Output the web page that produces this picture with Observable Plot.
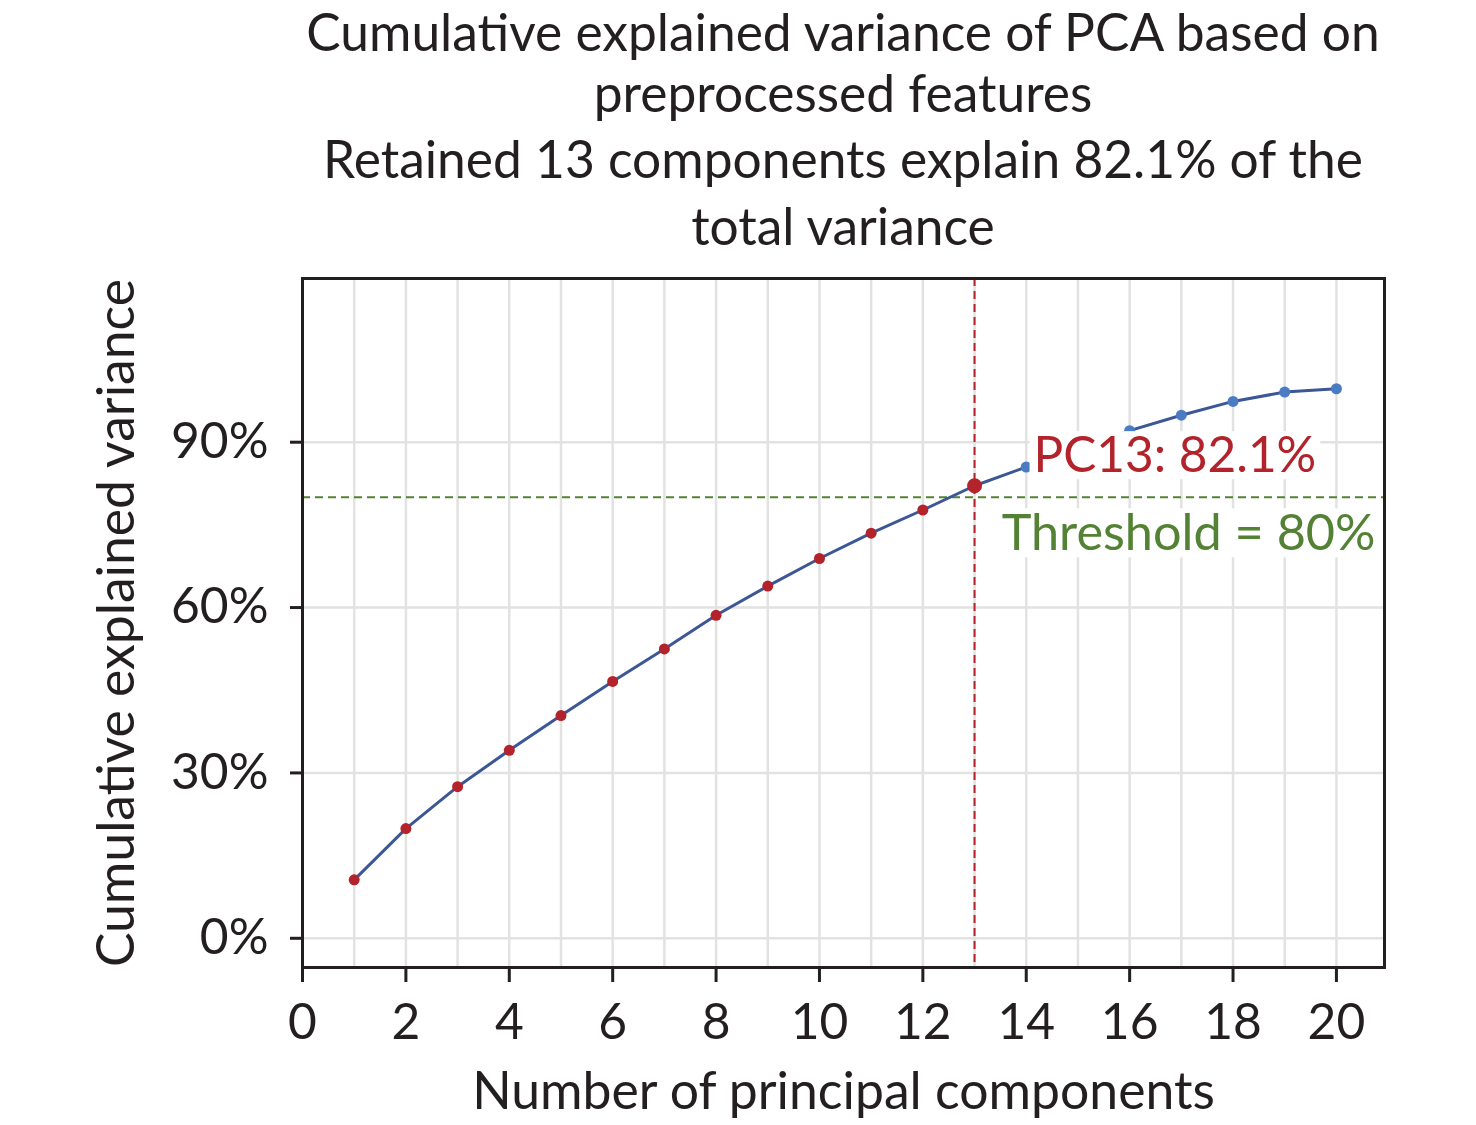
<!DOCTYPE html>
<html><head><meta charset="utf-8">
<script src="https://cdn.jsdelivr.net/npm/d3@7"></script>
<script src="https://cdn.jsdelivr.net/npm/@observablehq/plot@0.6"></script>
<style>
body{margin:0;background:#fff;font-family:Lato,sans-serif;}
#title{width:1476px;height:255px;box-sizing:border-box;padding-left:210px;text-align:center;font-size:51.5px;line-height:51.5px;color:#231f20;overflow:visible;}
#title .inner div{white-space:nowrap;margin-bottom:15px;}
#title .inner div:first-child{padding-top:5.5px;margin-bottom:9.5px;}
</style></head><body>
<div id="title"><div class="inner"></div></div>
<div id="chart"></div>
<script>
const titleLines = ["Cumulative explained variance of PCA based on", "preprocessed features", "Retained 13 components explain 82.1% of the", "total variance"];
const components = [1,2,3,4,5,6,7,8,9,10,11,12,13,14,15,16,17,18,19,20];
const cumulativeVariance = [10.6,19.9,27.5,34.1,40.4,46.6,52.5,58.6,63.9,68.9,73.5,77.7,82.1,85.5,89.0,92.1,94.9,97.4,99.1,99.7];
const retained = 13;
const retainedVariance = 82.1;
const threshold = 80;
const xTicks = [0,2,4,6,8,10,12,14,16,18,20];
const yTicks = [0,30,60,90];
const xLabel = "Number of principal components";
const yLabel = "Cumulative explained variance";

const RED = "#b3232b", BLUE = "#4a7bc3", LINE = "#3b5796", GREEN = "#548235", INK = "#231f20";

const inner = document.querySelector("#title .inner");
titleLines.forEach(t => { const d = document.createElement("div"); d.textContent = t; inner.appendChild(d); });

const rows = components.map((c, i) => ({pc: c, v: cumulativeVariance[i]}));
const kept = rows.filter(d => d.pc < retained);
const sel = rows.filter(d => d.pc === retained);
const rest = rows.filter(d => d.pc > retained);

const pcText = d => `PC${d.pc}: ${d.v}%`;
const thText = d => `Threshold = ${d}%`;

const chart = Plot.plot({
  width: 1476,
  height: 870,
  marginTop: 23,
  marginBottom: 158,
  marginLeft: 302,
  marginRight: 92,
  style: {fontFamily: "Lato, sans-serif", fontSize: "48px", color: INK, background: "#fff"},
  x: {domain: [0, 20.93], axis: null},
  y: {domain: [-5.3, 119.7], axis: null},
  marks: [
    Plot.gridX(components, {stroke: "#e2e2e2", strokeOpacity: 1, strokeWidth: 2.5}),
    Plot.gridY(yTicks, {stroke: "#e2e2e2", strokeOpacity: 1, strokeWidth: 2.5}),
    Plot.ruleY([threshold], {stroke: GREEN, strokeWidth: 2, strokeDasharray: "8,5"}),
    Plot.ruleX([retained], {stroke: RED, strokeWidth: 2, strokeDasharray: "8,5"}),
    Plot.line(rows, {x: "pc", y: "v", stroke: LINE, strokeWidth: 3}),
    Plot.dot(kept, {x: "pc", y: "v", r: 5.5, fill: RED}),
    Plot.dot(rest, {x: "pc", y: "v", r: 5.5, fill: BLUE}),
    Plot.dot(sel, {x: "pc", y: "v", r: 7.5, fill: RED}),
    Plot.text([{pc: retained, v: retainedVariance}], {
      x: "pc", y: "v", dx: 59, dy: -13.6, textAnchor: "start", lineAnchor: "bottom",
      text: pcText, fill: RED, fontSize: 49.5
    }),
    Plot.text([threshold], {
      y: d => d, frameAnchor: "right", dx: -9, dy: 53, textAnchor: "end", lineAnchor: "bottom",
      text: thText, fill: GREEN, fontSize: 50.4
    }),
    Plot.frame({stroke: INK, strokeWidth: 3}),
    Plot.axisX(xTicks, {tickSize: 15, tickPadding: 21, strokeWidth: 3, stroke: INK, fill: INK, fontSize: 49.7, tickFormat: d => String(d), label: null}),
    Plot.axisY(yTicks, {tickSize: 12, tickPadding: 22, strokeWidth: 3, stroke: INK, fill: INK, fontSize: 49.7, tickFormat: d => d + "%", label: null}),
    Plot.text([xLabel], {frameAnchor: "bottom", dy: 105, lineAnchor: "top", textAnchor: "middle", text: d => d, fill: INK, fontSize: 51.7}),
    Plot.text([yLabel], {frameAnchor: "left", dx: -169, rotate: -90, lineAnchor: "bottom", textAnchor: "middle", text: d => d, fill: INK, fontSize: 51.7})
  ]
});
document.getElementById("chart").appendChild(chart);

// white background boxes behind the two annotation labels
const boxed = new Set([pcText({pc: retained, v: retainedVariance}), thText(threshold)]);
chart.querySelectorAll("text").forEach(t => {
  if (!boxed.has(t.textContent)) return;
  const bb = t.getBBox();
  const r = document.createElementNS("http://www.w3.org/2000/svg", "rect");
  r.setAttribute("x", bb.x - 4);
  r.setAttribute("y", bb.y + 8);
  r.setAttribute("width", bb.width + 8);
  r.setAttribute("height", bb.height - 12);
  r.setAttribute("fill", "#fff");
  const tr = t.getAttribute("transform");
  if (tr) r.setAttribute("transform", tr);
  t.parentNode.insertBefore(r, t);
});
</script>
</body></html>
